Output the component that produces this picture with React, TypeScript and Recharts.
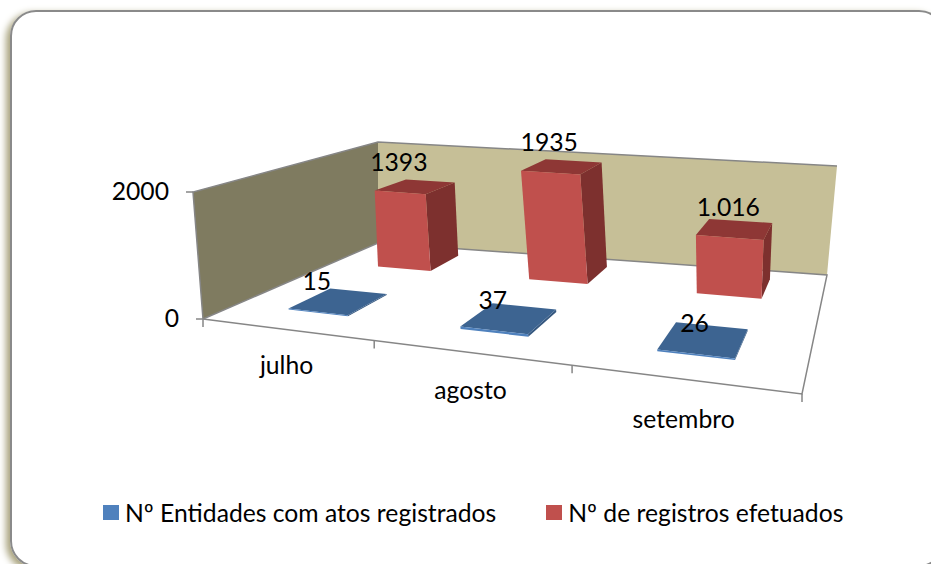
import React from 'react';
import { BarChart, Bar, XAxis, YAxis, Legend, LabelList } from 'recharts';

const months = ['julho', 'agosto', 'setembro'];
const entidades = [15, 37, 26];
const registros = [1393, 1935, 1016];
const entidadesLabels = ['15', '37', '26'];
const registrosLabels = ['1393', '1935', '1.016'];
const yTicks = [0, 2000];

const data = months.map((month, i) => ({
  month,
  entidades: entidades[i],
  registros: registros[i],
  entidadesLabel: entidadesLabels[i],
  registrosLabel: registrosLabels[i],
}));

const FONT = 'Lato, sans-serif';
const FONT_SIZE = 24.7;
const AXIS = '#868686';

// flat plot area that recharts lays out; everything is projected from it onto the 3D box
const PLOT = { left: 100, top: 100, width: 600, height: 300 };

type Pt = [number, number];

// homography from the unit square to a screen quad (p00, p10, p11, p01)
const quad = (p0: Pt, p1: Pt, p2: Pt, p3: Pt) => {
  const dx1 = p1[0] - p2[0];
  const dx2 = p3[0] - p2[0];
  const dy1 = p1[1] - p2[1];
  const dy2 = p3[1] - p2[1];
  const sx = p0[0] - p1[0] + p2[0] - p3[0];
  const sy = p0[1] - p1[1] + p2[1] - p3[1];
  const den = dx1 * dy2 - dx2 * dy1;
  const g = (sx * dy2 - dx2 * sy) / den;
  const h = (dx1 * sy - sx * dy1) / den;
  const a = p1[0] - p0[0] + g * p1[0];
  const b = p3[0] - p0[0] + h * p3[0];
  const d = p1[1] - p0[1] + g * p1[1];
  const e = p3[1] - p0[1] + h * p3[1];
  return (u: number, v: number): Pt => {
    const w = g * u + h * v + 1;
    return [(a * u + b * v + p0[0]) / w, (d * u + e * v + p0[1]) / w];
  };
};

const floorAt = quad([203, 319], [802, 394], [827, 275], [378, 243]);
const ceilAt = quad([193, 192], [817, 259], [837, 166], [378, 142]);

// u along the categories, d front to back, h share of the value axis
const project = (u: number, d: number, h: number): Pt => {
  const w = u + 0.09 * u * (1 - u); // softens the foreshortening along the front edge
  const f = floorAt(w, d);
  const c = ceilAt(w, d);
  return [f[0] + (c[0] - f[0]) * h, f[1] + (c[1] - f[1]) * h];
};

const pts = (list: Pt[]) => list.map((p) => `${p[0].toFixed(1)},${p[1].toFixed(1)}`).join(' ');

const Box = () => {
  const edge = { stroke: AXIS, strokeWidth: 1.5, fill: 'none' };
  return (
    <g>
      <polygon points={pts([project(0, 0, 0), project(0, 1, 0), project(0, 1, 1), project(0, 0, 1)])} fill="#7f7b60" />
      <polygon points={pts([project(0, 1, 0), project(1, 1, 0), project(1, 1, 1), project(0, 1, 1)])} fill="#c6bf97" />
      <polyline points={pts([project(0, 0, 0), project(0, 0, 1), project(0, 1, 1), project(1, 1, 1)])} {...edge} />
      <polyline points={pts([project(0, 1, 0), project(1, 1, 0), project(1, 0, 0), project(0, 0, 0)])} {...edge} />
      <polyline points={pts([project(0, 0, 0), project(0, 1, 0)])} {...edge} />
      {[0, 1, 2, 3].map((i) => {
        const p = project(i / 3, 0, 0);
        return <line key={i} x1={p[0]} y1={p[1]} x2={p[0]} y2={p[1] + 8} stroke={AXIS} strokeWidth={1.5} />;
      })}
    </g>
  );
};

const XTick = ({ x, payload }: any) => {
  const u = (x - PLOT.left) / PLOT.width;
  const p = project(u, 0, 0);
  return (
    <text x={p[0] + 1} y={p[1] + 37.5 + 6.5 * u} textAnchor="middle" dominantBaseline="middle" fontFamily={FONT} fontSize={FONT_SIZE} fill="#000">
      {payload.value}
    </text>
  );
};

const YTick = ({ y, payload }: any) => {
  const p = project(0, 0, (PLOT.top + PLOT.height - y) / PLOT.height);
  return (
    <g>
      <line x1={p[0] - 7} y1={p[1]} x2={p[0]} y2={p[1]} stroke={AXIS} strokeWidth={1.5} />
      <text x={p[0] - 24} y={p[1] + 2} textAnchor="end" dominantBaseline="middle" fontFamily={FONT} fontSize={FONT_SIZE} fill="#000">
        {payload.value}
      </text>
    </g>
  );
};

const barShape = (d0: number, d1: number, front: string, top: string, side: string) => (props: any) => {
  const { x, width, height } = props;
  const u0 = (x - PLOT.left) / PLOT.width;
  const u1 = (x + width - PLOT.left) / PLOT.width;
  const h = height / PLOT.height;
  return (
    <g>
      <polygon points={pts([project(u1, d0, 0), project(u1, d1, 0), project(u1, d1, h), project(u1, d0, h)])} fill={side} />
      <polygon points={pts([project(u0, d0, h), project(u1, d0, h), project(u1, d1, h), project(u0, d1, h)])} fill={top} />
      <polygon points={pts([project(u0, d0, 0), project(u1, d0, 0), project(u1, d0, h), project(u0, d0, h)])} fill={front} />
    </g>
  );
};

// labels sit above the front edge of the bar top
const barLabel = (d0: number) => (props: any) => {
  const { x, y, width, value } = props;
  const u = (x + width / 2 - PLOT.left) / PLOT.width;
  const h = (PLOT.top + PLOT.height - y) / PLOT.height;
  const p = project(u, d0, h);
  return (
    <text x={p[0] - 1} y={p[1] - 28} textAnchor="middle" dominantBaseline="middle" fontFamily={FONT} fontSize={FONT_SIZE} fill="#000">
      {value}
    </text>
  );
};

const LegendRow = ({ payload }: any) => (
  <div style={{ display: 'flex', gap: 50, fontFamily: FONT, fontSize: FONT_SIZE, color: '#000', whiteSpace: 'nowrap' }}>
    {(payload || []).map((entry: any) => (
      <div key={entry.value} style={{ display: 'flex', alignItems: 'center', gap: 6 }}>
        <span style={{ width: 16, height: 15, background: entry.color, display: 'inline-block' }} />
        {entry.value}
      </div>
    ))}
  </div>
);

const BLUE_DEPTH: [number, number] = [0.157, 0.38];
const RED_DEPTH: [number, number] = [0.68, 0.9];

const App = () => (
  <div style={{ position: 'absolute', left: 0, top: 0, width: 931, height: 564, overflow: 'hidden', background: '#fff' }}>
    <div
      style={{
        position: 'absolute',
        left: 10,
        top: 10,
        width: 935,
        height: 557,
        boxSizing: 'border-box',
        border: '2px solid #8a8a8a',
        borderRadius: 26,
        boxShadow: '-4px 3px 7px #a8a27c',
      }}
    />
    <div style={{ position: 'absolute', left: 0, top: 0 }}>
      <BarChart
        width={931}
        height={564}
        data={data}
        barSize={72}
        barGap={-72}
        margin={{ left: PLOT.left - 1, top: PLOT.top, right: 931 - PLOT.left - PLOT.width, bottom: 564 - PLOT.top - PLOT.height - 1 }}
      >
        <Box />
        <XAxis dataKey="month" height={1} axisLine={false} tickLine={false} tick={<XTick />} interval={0} />
        <YAxis domain={[0, 2000]} ticks={yTicks} width={1} axisLine={false} tickLine={false} tick={<YTick />} />
        <Legend
          content={<LegendRow />}
          wrapperStyle={{ position: 'absolute', left: 103, top: 498, width: 'auto', height: 0 }}
        />
        <Bar
          dataKey="entidades"
          name="Nº Entidades com atos registrados"
          fill="#4f81bd"
          isAnimationActive={false}
          shape={barShape(BLUE_DEPTH[0], BLUE_DEPTH[1], '#4f81bd', '#3d6491', '#35577f')}
        >
          <LabelList dataKey="entidadesLabel" content={barLabel(BLUE_DEPTH[0])} />
        </Bar>
        <Bar
          dataKey="registros"
          name="Nº de registros efetuados"
          fill="#c0504d"
          isAnimationActive={false}
          shape={barShape(RED_DEPTH[0], RED_DEPTH[1], '#c0504d', '#8e3735', '#7d302e')}
        >
          <LabelList dataKey="registrosLabel" content={barLabel(RED_DEPTH[0])} />
        </Bar>
      </BarChart>
    </div>
  </div>
);

export default App;
